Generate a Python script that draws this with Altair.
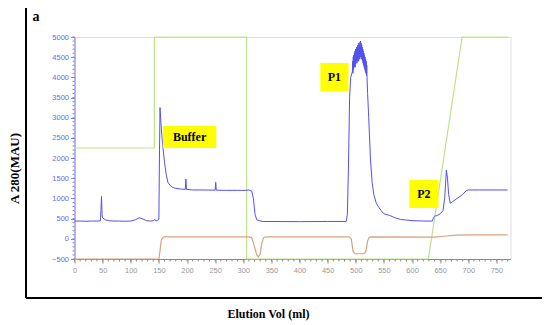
import altair as alt
import pandas as pd

# UV absorbance A280 (blue)
blue_x = [0, 10, 20, 30, 40, 46, 47, 48, 49, 50, 55, 60, 70, 80, 90, 100, 108, 115, 120, 128, 135, 140, 143, 145, 148, 150,
          151, 152, 153, 155, 157, 160, 163, 166, 170, 175, 180, 190, 197, 198, 199, 210, 230, 250, 251, 252, 270, 290, 305,
          310, 315, 318, 321, 324, 328, 335, 400, 450, 483, 485, 487, 489, 491, 493, 494,
          494.5, 495, 495.5, 496, 496.5, 497, 497.5, 498, 498.5, 499, 499.5, 500, 500.5, 501, 501.5, 502, 502.5, 503, 503.5,
          504, 504.5, 505, 505.5, 506, 506.5, 507, 507.5, 508, 508.5, 509, 509.5, 510, 510.5, 511, 511.5, 512, 512.5, 513,
          513.5, 514, 514.5, 515, 515.5, 516, 516.5, 517, 517.5, 518, 518.5, 519, 519.5,
          520, 521, 523, 526, 529, 532, 536, 540, 545, 550, 560, 570, 580, 600, 620, 636, 638, 640, 645, 650, 655, 658, 661,
          663, 665, 668, 672, 680, 690, 697, 700, 720, 770]
blue_y = [440, 440, 435, 440, 440, 445, 700, 1050, 600, 520, 470, 450, 440, 440, 435, 440, 470, 520, 500, 450, 440, 450, 480, 440, 460, 480,
          2000, 3250, 3000, 2600, 2300, 1900, 1600, 1400, 1320, 1270, 1250, 1230, 1225, 1480, 1225, 1210, 1210, 1205, 1400, 1205, 1200, 1200, 1200,
          1210, 1180, 1000, 600, 470, 450, 430, 425, 430, 430, 600, 1800, 3500, 4000, 4100, 4150,
          4400, 4100, 4500, 4200, 4550, 4250, 4600, 4300, 4650, 4250, 4700, 4350, 4650, 4400, 4750, 4350, 4700, 4400, 4800,
          4450, 4750, 4400, 4850, 4500, 4800, 4450, 4880, 4550, 4900, 4500, 4850, 4450, 4800, 4500, 4750, 4400, 4700, 4350,
          4650, 4300, 4600, 4250, 4550, 4200, 4500, 4150, 4450, 4100, 4400, 4050, 4300,
          4000, 3600, 3000, 2000, 1400, 1100, 900, 800, 700, 620, 580, 520, 480, 450, 440, 440, 520, 560, 580, 620, 700, 1000, 1700,
          1500, 1100, 880, 920, 1000, 1100, 1200, 1210, 1210, 1210]

# Gradient (green)
green_x = [0, 142, 142, 306, 306, 629, 689, 770]
green_y = [2250, 2250, 5000, 5000, -500, -500, 5000, 5000]

# Conductivity (orange)
orange_x = [0, 150, 152, 154, 157, 160, 310, 315, 320, 324, 327, 330, 333, 336, 340, 488, 492, 495, 498, 515, 518, 521, 524, 528,
            640, 660, 680, 700, 770]
orange_y = [-500, -500, -300, -50, 40, 50, 50, 30, -200, -400, -450, -380, -100, 30, 50, 50, 0, -300, -370, -370, -300, -50, 40, 50,
            40, 70, 90, 100, 100]

# Annotation boxes
box_labels = ["Buffer", "P1", "P2"]
box_x1 = [157, 437, 595]
box_x2 = [252, 487, 647]
box_y1 = [2250, 3662, 763]
box_y2 = [2795, 4356, 1457]

x_major = list(range(0, 751, 50))
x_minor = list(range(0, 771, 10))
y_major = list(range(-500, 5001, 500))
y_minor = list(range(-500, 5001, 100))

W, H = 436, 222

def mk(xs, ys):
    return pd.DataFrame({"x": xs, "y": ys, "i": list(range(len(xs)))})

xscale = alt.Scale(domain=[0, 775], nice=False, zero=False)
yscale = alt.Scale(domain=[-500, 5000], nice=False, zero=False)

xaxis = alt.Axis(values=x_major, title="Elution Vol (ml)", titleX=193.5, titleY=54, titleBaseline="middle",
                 titleFont="Liberation Serif", titleFontWeight="bold", titleFontSize=12, titleColor="#000",
                 grid=False, tickSize=4, labelFontSize=7.5, labelFont="Liberation Sans", labelColor="#999999",
                 domainColor="#8a8a8a", tickColor="#8a8a8a", labelPadding=3, format="d", labelOverlap=False,
                 labelBound=False, labelFlush=False)
yaxis = alt.Axis(values=y_major, title="A 280(MAU)", titleX=-60, titleY=131, titleBaseline="middle",
                 titleFont="Liberation Serif", titleFontWeight="bold", titleFontSize=13, titleColor="#000",
                 grid=False, tickSize=4, labelFontSize=7.5, labelFont="Liberation Sans", labelColor="#6a6ae0",
                 domainColor="#8080e0", tickColor="#8080e0", labelPadding=2, format="d", labelOverlap=False,
                 labelBound=False, labelFlush=False)

def X(f):
    return alt.X(f, type="quantitative", scale=xscale, axis=xaxis)

def Y(f):
    return alt.Y(f, type="quantitative", scale=yscale, axis=yaxis)

base_green = alt.Chart(mk(green_x, green_y)).mark_line(color="#bde38a", strokeWidth=1.2).encode(
    x=X("x"), y=Y("y"), order="i:Q")
orange = alt.Chart(mk(orange_x, orange_y)).mark_line(color="#d9a27c", strokeWidth=1.2).encode(
    x=X("x"), y=Y("y"), order="i:Q")
blue = alt.Chart(mk(blue_x, blue_y)).mark_line(color="#5252ee", strokeWidth=1).encode(
    x=X("x"), y=Y("y"), order="i:Q")

ymin = alt.Chart(pd.DataFrame({"y": y_minor})).mark_rule(color="#8080e0", strokeWidth=1).encode(
    y=Y("y"), x=alt.value(-2), x2=alt.value(0))
xmin = alt.Chart(pd.DataFrame({"x": x_minor})).mark_rule(color="#8a8a8a", strokeWidth=1).encode(
    x=X("x"), y=alt.value(H), y2=alt.value(H + 2.5))

boxdf = pd.DataFrame({"label": box_labels, "x1": box_x1, "x2": box_x2, "y1": box_y1, "y2": box_y2,
                      "xc": [(a + b) / 2 for a, b in zip(box_x1, box_x2)],
                      "yc": [(a + b) / 2 for a, b in zip(box_y1, box_y2)]})
boxes = alt.Chart(boxdf).mark_rect(color="#ffff00").encode(
    x=X("x1"), x2="x2:Q", y=Y("y1"), y2="y2:Q")
box_text = alt.Chart(boxdf).mark_text(font="Liberation Serif", fontWeight="bold", fontSize=12, color="#000",
                                      baseline="middle", align="center").encode(
    x=X("xc"), y=Y("yc"), text="label:N")

frame_left = alt.Chart(pd.DataFrame({"k": [0]})).mark_rule(color="#000", strokeWidth=2).encode(
    x=alt.value(-48.5), y=alt.value(-32), y2=alt.value(261))
frame_bottom = alt.Chart(pd.DataFrame({"k": [0]})).mark_rule(color="#000", strokeWidth=2).encode(
    x=alt.value(-48.5), x2=alt.value(468.5), y=alt.value(261))
panel = alt.Chart(pd.DataFrame({"t": ["a"]})).mark_text(font="Liberation Serif", fontWeight="bold", fontSize=14,
                                                         color="#000", baseline="middle", align="center").encode(
    x=alt.value(-38.5), y=alt.value(-20), text="t:N")

chart = alt.layer(base_green, orange, blue, ymin, xmin, boxes, box_text, frame_left, frame_bottom, panel).properties(
    width=W, height=H, autosize=alt.AutoSizeParams(type="none"),
    padding={"left": 66.5, "top": 29, "right": 31, "bottom": 63}
).configure_view(stroke=None).configure_axis(labelOverlap=False).configure(background="white")

chart.save("out.html", embed_options={"renderer": "svg", "actions": False})
